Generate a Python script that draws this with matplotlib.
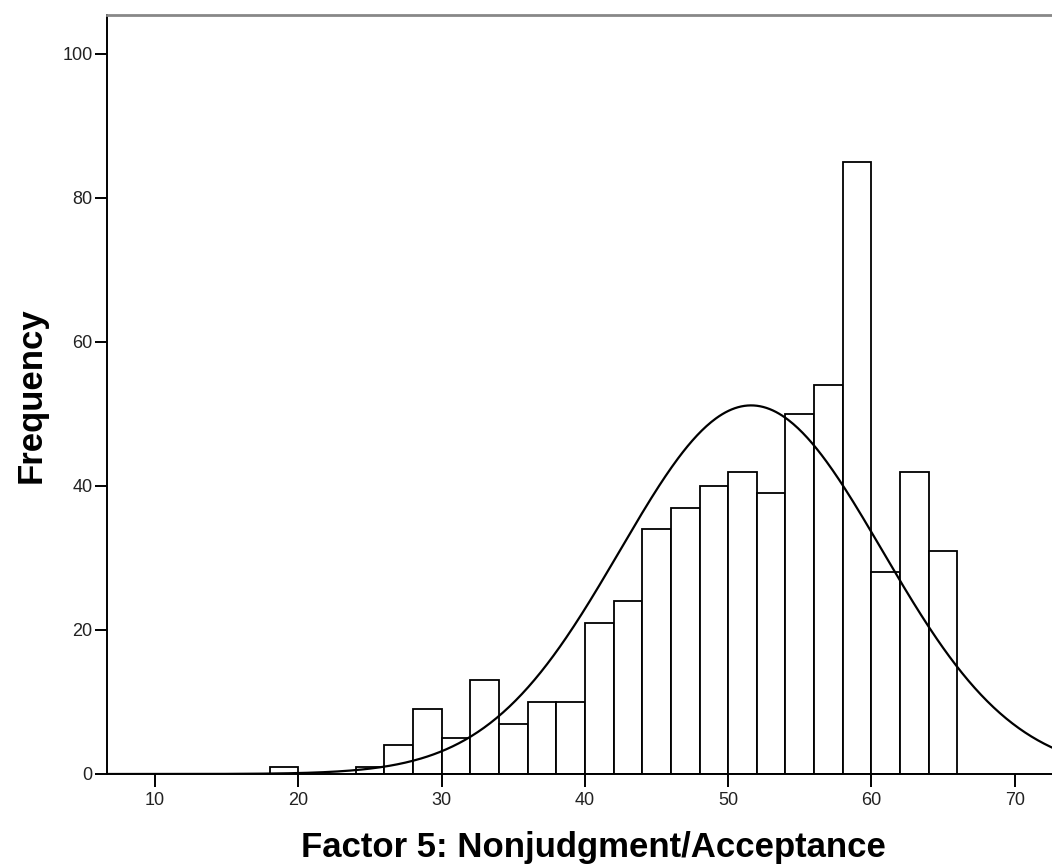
import numpy as np
from matplotlib import pyplot as plt

# histogram bins (left edges, width 2) and counts
bin_left = [18, 24, 26, 28, 30, 32, 34, 36, 38, 40, 42, 44, 46, 48, 50, 52, 54, 56, 58, 60, 62, 64]
counts = [1, 1, 4, 9, 5, 13, 7, 10, 10, 21, 24, 34, 37, 40, 42, 39, 50, 54, 85, 28, 42, 31]
bin_width = 2

# fitted normal curve parameters
mean = 51.6
sd = 9.15

x_ticks = [10, 20, 30, 40, 50, 60, 70]
y_ticks = [0, 20, 40, 60, 80, 100]

plt.rcParams['font.family'] = ['Liberation Sans', 'DejaVu Sans']

fig = plt.figure(figsize=(10.52, 8.65), dpi=100)
ax = fig.add_axes([107/1052, 1 - 774/865, 1 - 107/1052, (774 - 15)/865])

ax.bar(bin_left, counts, width=bin_width, align='edge', facecolor='white',
       edgecolor='black', linewidth=1.3, zorder=2)

n = sum(counts)
xs = np.linspace(6.65, 72.6, 600)
ys = n * bin_width / (sd * np.sqrt(2 * np.pi)) * np.exp(-(xs - mean) ** 2 / (2 * sd ** 2))
ax.plot(xs, ys, color='black', linewidth=1.6, zorder=3)

ax.set_xlim(6.65, 72.6)
ax.set_ylim(0, 105.4)
ax.set_xticks(x_ticks)
ax.set_yticks(y_ticks)
ax.tick_params(axis='x', length=9, width=1.4, pad=4, labelsize=13, color='black', labelcolor='#222222')
ax.tick_params(axis='y', length=9, width=1.4, pad=1.5, labelsize=13, color='black', labelcolor='#222222')

ax.spines['right'].set_visible(False)
ax.spines['top'].set_color('#888888')
ax.spines['top'].set_linewidth(2)
ax.spines['left'].set_linewidth(1.4)
ax.spines['bottom'].set_linewidth(1.4)

fig.text(593/1052, 1 - 857/865, 'Factor 5: Nonjudgment/Acceptance', ha='center', va='baseline',
         fontsize=25, fontweight='bold')
fig.text(31/1052, 1 - 395/865, 'Frequency', ha='center', va='center', rotation=90,
         fontsize=25, fontweight='bold')

fig.savefig('out.png', dpi=100)
